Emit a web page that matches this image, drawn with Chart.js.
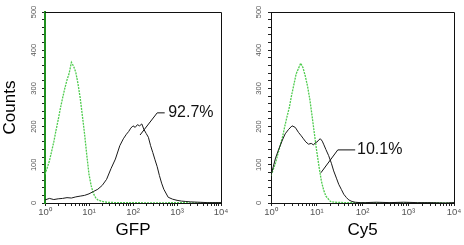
<!DOCTYPE html>
<html>
<head>
<meta charset="utf-8">
<script src="https://cdn.jsdelivr.net/npm/chart.js@4/dist/chart.umd.min.js"></script>
<style>
html,body{margin:0;padding:0;background:#fff;}
#wrap{position:relative;width:464px;height:245px;overflow:hidden;}
canvas{position:absolute;top:0;}
</style>
</head>
<body>
<div id="wrap">
<canvas id="c1" width="232" height="245" style="left:0"></canvas>
<canvas id="c2" width="232" height="245" style="left:232px"></canvas>
</div>
<script>
// ---- data (x in log10 decades, y in counts) ----
const xTickLabels = ['10\u2070','10\u00b9','10\u00b2','10\u00b3','10\u2074'];
const yTickLabels = ['0','100','200','300','400','500'];

const gfpCtrlX = [0, 0.05, 0.1, 0.15, 0.2, 0.25, 0.3, 0.35, 0.4, 0.45, 0.5, 0.55, 0.6, 0.65, 0.7, 0.75, 0.8, 0.85, 0.9, 0.95, 1.0, 1.05, 1.1, 1.15, 1.2, 1.3, 1.4, 1.6, 2.0, 2.5, 3.0, 3.5, 4.0];
const gfpCtrlY = [75, 92, 110, 135, 160, 190, 218, 248, 275, 300, 322, 340, 368, 358, 342, 312, 275, 228, 180, 125, 75, 45, 25, 14, 8, 4, 2, 1, 1, 0, 1, 0, 0];

const gfpSampleX = [0, 0.1, 0.2, 0.3, 0.4, 0.5, 0.6, 0.7, 0.8, 0.9, 1.0, 1.1, 1.2, 1.3, 1.4, 1.5, 1.6, 1.7, 1.78, 1.85, 1.9, 1.95, 2.0, 2.05, 2.1, 2.15, 2.2, 2.25, 2.3, 2.35, 2.4, 2.45, 2.5, 2.55, 2.6, 2.65, 2.7, 2.8, 2.9, 3.0, 3.1, 3.2, 3.3, 3.5, 3.7, 4.0];
const gfpSampleY = [8, 12, 9, 11, 12, 14, 13, 16, 18, 20, 24, 30, 36, 46, 62, 90, 115, 150, 168, 180, 187, 196, 202, 198, 205, 202, 207, 192, 182, 172, 150, 132, 113, 95, 72, 52, 36, 15, 10, 7, 5, 4, 3, 2, 1, 1];

const cy5CtrlX = [0, 0.05, 0.1, 0.15, 0.2, 0.25, 0.3, 0.35, 0.4, 0.45, 0.5, 0.55, 0.6, 0.65, 0.7, 0.75, 0.8, 0.85, 0.9, 0.95, 1.0, 1.05, 1.1, 1.15, 1.2, 1.3, 1.4, 1.6, 2.0, 2.5, 3.0, 3.5, 4.0];
const cy5CtrlY = [72, 88, 105, 128, 150, 172, 200, 226, 250, 282, 310, 338, 352, 366, 354, 332, 305, 270, 226, 180, 135, 95, 58, 34, 18, 4, 2, 1, 1, 0, 0, 1, 0];

const cy5SampleX = [0, 0.05, 0.1, 0.17, 0.25, 0.31, 0.38, 0.46, 0.53, 0.6, 0.66, 0.71, 0.76, 0.82, 0.88, 0.93, 0.97, 1.01, 1.05, 1.08, 1.12, 1.15, 1.2, 1.26, 1.32, 1.37, 1.43, 1.48, 1.54, 1.59, 1.65, 1.7, 1.77, 1.84, 1.95, 2.06, 2.3, 2.6, 2.9, 3.2, 3.5, 3.8, 4.0];
const cy5SampleY = [72, 95, 118, 141, 165, 181, 192, 202, 198, 185, 176, 168, 160, 154, 156, 152, 158, 160, 166, 168, 162, 154, 140, 124, 104, 84, 65, 49, 35, 23, 14, 8, 4, 2, 1, 1, 2, 1, 2, 1, 1, 0, 1];

const gfpPct = '92.7%';
const cy5Pct = '10.1%';

function pts(xs, ys){ return xs.map((x,i)=>({x:x, y:ys[i]})); }

const framePlugin = {
  id: 'frame',
  afterDatasetsDraw(chart){
    const a = chart.chartArea, ctx = chart.ctx;
    ctx.save();
    ctx.strokeStyle = '#111';
    ctx.lineWidth = 1;
    ctx.beginPath();
    ctx.moveTo(a.left, a.top + 0.5);
    ctx.lineTo(a.right + 0.5, a.top + 0.5);
    ctx.lineTo(a.right + 0.5, a.bottom);
    ctx.stroke();
    ctx.restore();
  }
};

const calloutPlugin = {
  id: 'callout',
  afterDatasetsDraw(chart, args, opts){
    if (!opts || !opts.text) return;
    const xs = chart.scales.x, ys = chart.scales.y, ctx = chart.ctx;
    ctx.save();
    ctx.strokeStyle = '#111';
    ctx.lineWidth = 1;
    ctx.beginPath();
    opts.path.forEach((p,i)=>{
      const px = xs.getPixelForValue(p[0]), py = ys.getPixelForValue(p[1]);
      if (i===0) ctx.moveTo(px,py); else ctx.lineTo(px,py);
    });
    ctx.stroke();
    ctx.fillStyle = '#111';
    ctx.font = '16px "Liberation Sans", Arial, sans-serif';
    ctx.textAlign = 'left';
    ctx.textBaseline = 'middle';
    ctx.fillText(opts.text, xs.getPixelForValue(opts.at[0]), ys.getPixelForValue(opts.at[1]));
    ctx.restore();
  }
};

function makeChart(id, ctrl, sample, cfg){
  const minorX = [];
  for (let d=0; d<4; d++){ for (let k=1; k<10; k++){ minorX.push(d + Math.log10(k)); } }
  minorX.push(4);
  return new Chart(document.getElementById(id), {
    type: 'line',
    data: {
      datasets: [
        { data: ctrl, borderColor: '#4fcc4f', borderWidth: 1.3, borderDash: [2,1], pointRadius: 0, tension: 0, order: 2 },
        { data: sample, borderColor: '#1a1a1a', borderWidth: 1, pointRadius: 0, tension: 0, order: 1 }
      ]
    },
    options: {
      responsive: false,
      animation: false,
      events: [],
      layout: { padding: { top: 12, right: cfg.padRight, left: 0, bottom: 0 } },
      plugins: { legend: { display: false }, tooltip: { enabled: false }, callout: cfg.callout },
      scales: {
        x: {
          type: 'linear', min: 0, max: 4,
          afterBuildTicks(s){ s.ticks = minorX.map(v=>({value:v})); },
          afterFit(s){ s.height = 42; },
          grid: { drawOnChartArea: false, drawTicks: true, tickLength: 3, color: '#222', tickColor: '#222' },
          border: { display: true, color: '#111', width: 1 },
          ticks: {
            autoSkip: false, maxRotation: 0, minRotation: 0, padding: 1,
            color: '#555', font: { size: 9.5, family: '"Liberation Sans", Arial, sans-serif' },
            callback(v){ const r = Math.round(v); return Math.abs(v - r) < 1e-6 ? xTickLabels[r] : ''; }
          },
          title: { display: true, text: cfg.xTitle, color: '#000', font: { size: 17, family: '"Liberation Sans", Arial, sans-serif' }, padding: { top: 0, bottom: 4 } }
        },
        y: {
          type: 'linear', min: 0, max: 500,
          afterBuildTicks(s){ const t=[]; for (let v=0; v<=500; v+=20) t.push({value:v}); s.ticks = t; },
          afterFit(s){ s.width = cfg.yWidth; },
          grid: { drawOnChartArea: false, drawTicks: true, tickLength: 3, color: '#222', tickColor: '#222' },
          border: { display: true, color: cfg.yBorder, width: cfg.yBorderWidth },
          ticks: {
            autoSkip: false, minRotation: 90, maxRotation: 90, crossAlign: 'center', padding: cfg.yPad,
            color: '#555', font: { size: 7.5, family: '"Liberation Sans", Arial, sans-serif' },
            callback(v){ return v % 100 === 0 ? yTickLabels[v/100] : ''; }
          },
          title: { display: cfg.yTitle !== '', text: cfg.yTitle, color: '#000', font: { size: 17, family: '"Liberation Sans", Arial, sans-serif' }, padding: 0 }
        }
      }
    },
    plugins: [framePlugin, calloutPlugin]
  });
}

makeChart('c1', pts(gfpCtrlX, gfpCtrlY), pts(gfpSampleX, gfpSampleY), {
  xTitle: 'GFP', yTitle: 'Counts', yWidth: 45, padRight: 11, yPad: 2,
  yBorder: '#1f8f1f', yBorderWidth: 2,
  callout: { text: gfpPct, path: [[2.72, 236], [2.55, 236], [2.16, 178]], at: [2.8, 236] }
});
makeChart('c2', pts(cy5CtrlX, cy5CtrlY), pts(cy5SampleX, cy5SampleY), {
  xTitle: 'Cy5', yTitle: '', yWidth: 39, padRight: 10, yPad: 3,
  yBorder: '#111', yBorderWidth: 1,
  callout: { text: cy5Pct, path: [[1.84, 139], [1.46, 139], [1.09, 79]], at: [1.88, 139] }
});
</script>
</body>
</html>
